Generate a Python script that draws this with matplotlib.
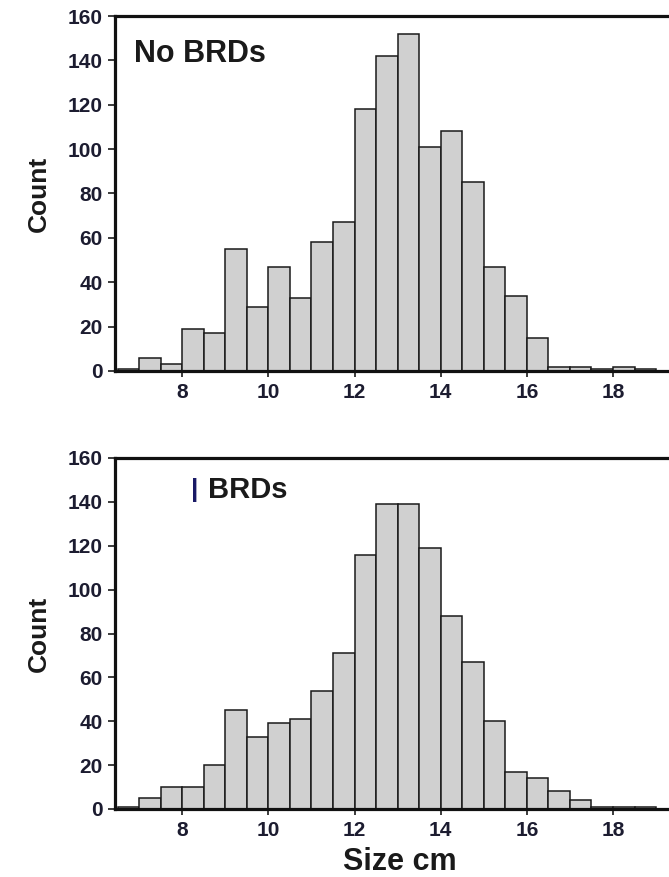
import matplotlib
matplotlib.use("Agg")
from matplotlib import pyplot as plt
import numpy as np

# bin edges (cm), 0.5 cm wide
bin_edges = np.arange(6.5, 19.01, 0.5)

# counts per bin, no BRDs
counts_no_brd = [1, 6, 3, 19, 17, 55, 29, 47, 33, 58, 67, 118, 142, 152,
                 101, 108, 85, 47, 34, 15, 2, 2, 1, 2, 1]
# counts per bin, with BRDs
counts_brd = [1, 5, 10, 10, 20, 45, 33, 39, 41, 54, 71, 116, 139, 139,
              119, 88, 67, 40, 17, 14, 8, 4, 1, 1, 1]

x_ticks = [8, 10, 12, 14, 16, 18]
y_ticks = [0, 20, 40, 60, 80, 100, 120, 140, 160]

plt.rcParams['font.family'] = ['Liberation Sans', 'DejaVu Sans']
plt.rcParams['font.weight'] = 'bold'

W, H = 669, 877
fig = plt.figure(figsize=(W / 100, H / 100), dpi=100)

tick_col = '#1c1c30'
ink = '#1a1a1a'


def panel(rect, counts, show_xlabel):
    ax = fig.add_axes(rect)
    ax.bar(bin_edges[:-1], counts, width=0.5, align='edge',
           color='#d0d0d0', edgecolor=ink, linewidth=1.1, zorder=2)
    ax.set_xlim(6.44, 19.3)
    ax.set_ylim(0, 160)
    ax.set_xticks(x_ticks)
    ax.set_yticks(y_ticks)
    ax.tick_params(axis='y', direction='out', length=5, width=1.2,
                   labelsize=15, colors=ink, labelcolor=tick_col, pad=4)
    ax.tick_params(axis='x', direction='out', length=4, width=1.2,
                   labelsize=15, colors=ink, labelcolor=tick_col, pad=5)
    for lab in ax.get_xticklabels() + ax.get_yticklabels():
        lab.set_fontweight('bold')
    ax.spines['right'].set_visible(False)
    for s in ('left', 'top', 'bottom'):
        ax.spines[s].set_linewidth(2.3)
        ax.spines[s].set_color('#111111')
        ax.spines[s].set_zorder(3)
    ax.set_ylabel('Count', fontsize=19, fontweight='bold', color=ink,
                  labelpad=12)
    if show_xlabel:
        ax.set_xlabel('Size cm', fontsize=22, fontweight='bold', color=ink)
        ax.xaxis.set_label_coords(0.514, -0.108)
    return ax


ax1 = panel([115 / W, 1 - 371 / H, 1 - 115 / W, (371 - 16) / H], counts_no_brd, False)
ax1.text(6.88, 143, 'No BRDs', fontsize=22, fontweight='bold', color=ink,
         va='center', ha='left')

ax2 = panel([115 / W, 1 - 809 / H, 1 - 115 / W, (809 - 458) / H], counts_brd, True)
ax2.text(8.2, 145.5, '|', fontsize=19, color='#1a1a66', va='center', ha='left',
         fontweight='bold')
ax2.text(8.6, 145.5, 'BRDs', fontsize=21, fontweight='bold', color=ink,
         va='center', ha='left')

fig.savefig('out.png', dpi=100)
